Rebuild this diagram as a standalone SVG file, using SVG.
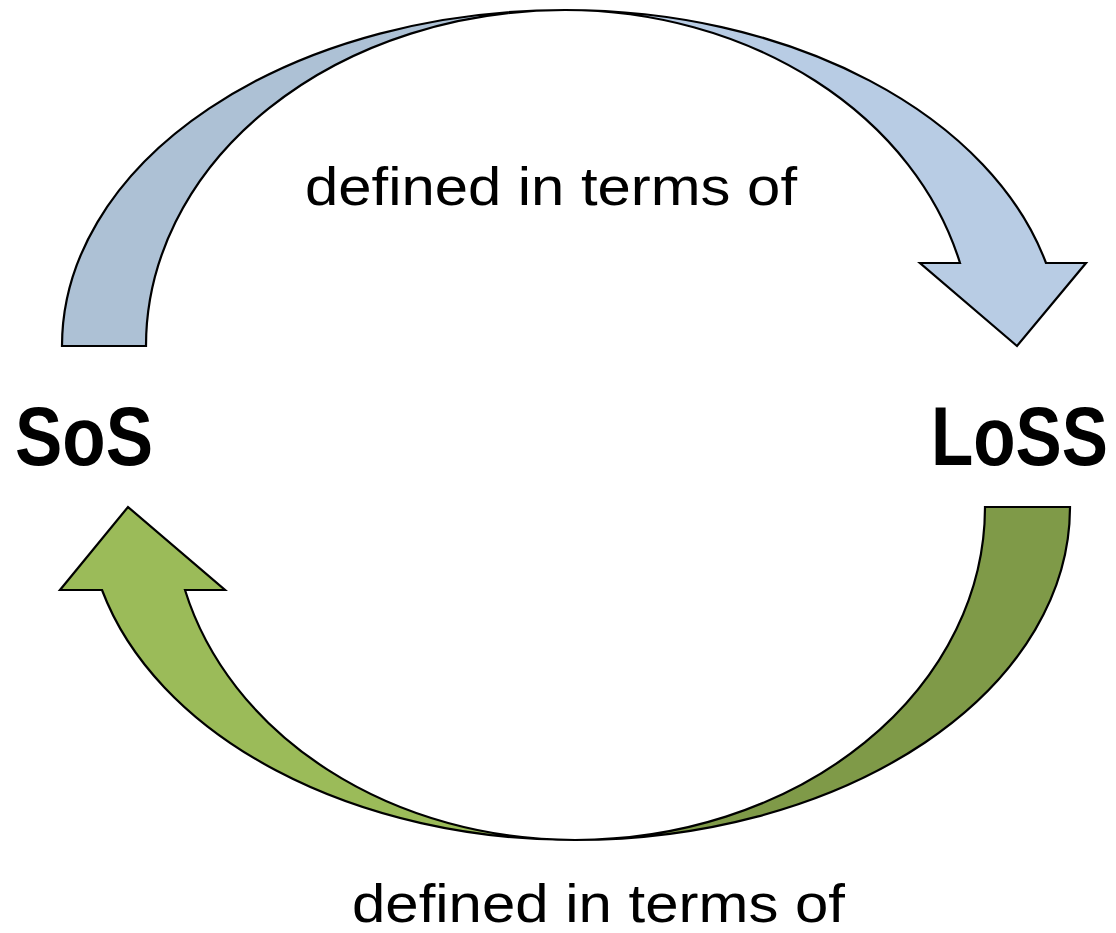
<svg xmlns="http://www.w3.org/2000/svg" width="1116" height="933" viewBox="0 0 1116 933">
<style>
.band{stroke:#000;stroke-width:2.2;stroke-linejoin:miter}
.lbl{font-family:"Liberation Sans",Arial,sans-serif;font-size:54px;fill:#000}
.node{font-family:"Liberation Sans",Arial,sans-serif;font-size:70px;font-weight:bold;fill:#000}
</style>
<rect width="1116" height="933" fill="#fff"/>
<g id="connectors">
  <g id="arrow-top">
    <path class="band" fill="#adc1d5" d="M62,346 A503,336 0 0 1 565,10 A419,336 0 0 0 146,346 Z"/>
    <path class="band" fill="#b8cce4" d="M565,10 A496,336 0 0 1 1046,263 L1086,263 L1017,346 L920,263 L960,263 A408,336 0 0 0 565,10 Z"/>
  </g>
  <g id="arrow-bottom">
    <path class="band" fill="#7f9a48" d="M1070,507 A495,333 0 0 1 575,840 A410,333 0 0 0 985,507 Z"/>
    <path class="band" fill="#9bbb59" d="M575,840 A488,333 0 0 1 102,590 L60,590 L128,507 L225,590 L185,590 A403,333 0 0 0 575,840 Z"/>
  </g>
  <text class="lbl" x="305" y="205" textLength="492" lengthAdjust="spacingAndGlyphs">defined in terms of</text>
  <text class="lbl" x="352" y="922" textLength="493" lengthAdjust="spacingAndGlyphs">defined in terms of</text>
</g>
<g id="node-sos">
  <text class="node" transform="translate(15,465) scale(1,1.2)" x="0" y="0" textLength="138" lengthAdjust="spacingAndGlyphs">SoS</text>
</g>
<g id="node-loss">
  <text class="node" transform="translate(931,465) scale(1,1.2)" x="0" y="0" textLength="177" lengthAdjust="spacingAndGlyphs">LoSS</text>
</g>
</svg>
